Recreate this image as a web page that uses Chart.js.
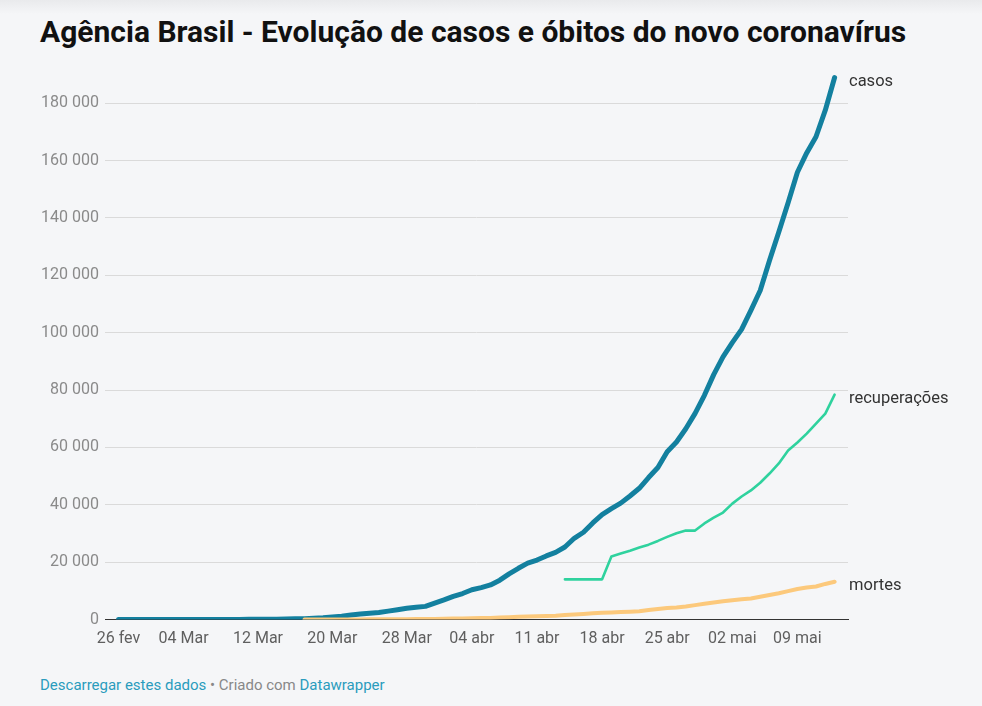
<!DOCTYPE html>
<html><head><meta charset="utf-8">
<script src="https://cdn.jsdelivr.net/npm/chart.js@4.4.0/dist/chart.umd.min.js"></script>
<style>
html,body{margin:0;padding:0;}
body{width:982px;height:706px;position:relative;overflow:hidden;font-family:Roboto,"Noto Sans",sans-serif;background:linear-gradient(#e9eaec 0px,#f5f6f8 14px,#f5f6f8 100%);}
h1{position:absolute;left:40px;top:13px;margin:0;font-size:30px;line-height:38px;font-weight:700;color:#111;white-space:nowrap;}
#wrap{position:absolute;left:0;top:0;width:982px;height:660px;}
.foot{position:absolute;left:40px;top:676px;font-size:15px;line-height:18px;color:#888;white-space:nowrap;}
.foot span.l{color:#2a9cbd;}
</style></head>
<body>
<h1 id="title">Agência Brasil - Evolução de casos e óbitos do novo coronavírus</h1>
<div id="wrap"><canvas id="c"></canvas></div>
<div class="foot"><span class="l">Descarregar estes dados</span> • Criado com <span class="l">Datawrapper</span></div>
<script>
// Days (26 fev 2020 – 13 mai 2020)
const dates = [
 "2020-02-26","2020-02-27","2020-02-28","2020-02-29",
 "2020-03-01","2020-03-02","2020-03-03","2020-03-04","2020-03-05","2020-03-06","2020-03-07","2020-03-08","2020-03-09","2020-03-10",
 "2020-03-11","2020-03-12","2020-03-13","2020-03-14","2020-03-15","2020-03-16","2020-03-17","2020-03-18","2020-03-19","2020-03-20",
 "2020-03-21","2020-03-22","2020-03-23","2020-03-24","2020-03-25","2020-03-26","2020-03-27","2020-03-28","2020-03-29","2020-03-30","2020-03-31",
 "2020-04-01","2020-04-02","2020-04-03","2020-04-04","2020-04-05","2020-04-06","2020-04-07","2020-04-08","2020-04-09","2020-04-10",
 "2020-04-11","2020-04-12","2020-04-13","2020-04-14","2020-04-15","2020-04-16","2020-04-17","2020-04-18","2020-04-19","2020-04-20",
 "2020-04-21","2020-04-22","2020-04-23","2020-04-24","2020-04-25","2020-04-26","2020-04-27","2020-04-28","2020-04-29","2020-04-30",
 "2020-05-01","2020-05-02","2020-05-03","2020-05-04","2020-05-05","2020-05-06","2020-05-07","2020-05-08","2020-05-09","2020-05-10",
 "2020-05-11","2020-05-12","2020-05-13"
];
const casos = [
 1,1,1,2,
 2,2,2,3,8,13,19,25,25,34,
 52,77,98,121,200,234,291,428,621,904,
 1128,1546,1891,2201,2433,2915,3417,3904,4256,4579,5717,
 6836,8044,9056,10360,11130,12056,13717,15927,17857,19638,
 20727,22169,23430,25262,28320,30425,33682,36599,38654,40581,
 43079,45757,49492,52995,58509,61888,66501,71886,78162,85380,
 91589,96559,101147,107780,114715,125218,135106,145328,155939,162699,
 168331,177589,188974
];
const recuperacoes = [
 null,null,null,null,
 null,null,null,null,null,null,null,null,null,null,
 null,null,null,null,null,null,null,null,null,null,
 null,null,null,null,null,null,null,null,null,null,null,
 null,null,null,null,null,null,null,null,null,null,
 null,null,null,14000,14000,14000,14000,14000,22000,23000,
 24000,25100,26100,27400,28800,30100,31000,31000,33500,35500,
 37300,40400,42900,45000,47700,50900,54400,58900,61700,64800,
 68300,71800,78400
];
const mortes = [
 null,null,null,null,
 null,null,null,null,null,null,null,null,null,null,
 null,null,null,null,null,null,1,4,7,11,
 18,25,34,46,57,77,92,114,136,159,201,
 240,324,359,445,486,553,667,800,941,1056,
 1124,1223,1328,1532,1736,1924,2141,2347,2462,2575,
 2741,2906,3313,3670,4016,4205,4543,5017,5466,5901,
 6329,6750,7025,7321,7921,8536,9146,9897,10627,11123,
 11519,12400,13149
];
const seriesNames = ["casos","recuperações","mortes"];
const seriesColors = ["#13809f","#2fd29e","#fcc97c"];
const seriesWidths = [5,2.6,4];
const xTickDates = ["2020-02-26","2020-03-04","2020-03-12","2020-03-20","2020-03-28","2020-04-04","2020-04-11","2020-04-18","2020-04-25","2020-05-02","2020-05-09"];
const xTickLabels = ["26 fev","04 Mar","12 Mar","20 Mar","28 Mar","04 abr","11 abr","18 abr","25 abr","02 mai","09 mai"];
const yTicks = [0,20000,40000,60000,80000,100000,120000,140000,160000,180000];

const toPts = arr => arr.map((v,i)=> v===null?null:{x:i,y:v}).filter(p=>p);
const seriesData = [casos,recuperacoes,mortes];
const xTickIdx = xTickDates.map(d=>dates.indexOf(d));
const fmt = v => String(v).replace(/\B(?=(\d{3})+(?!\d))/g,' ');

const endLabels = {
  id:'endLabels',
  afterDatasetsDraw(chart){
    const {ctx, chartArea, scales:{y}} = chart;
    ctx.save();
    ctx.font = '16.5px Roboto, "Noto Sans", sans-serif';
    ctx.fillStyle = '#333';
    ctx.textBaseline = 'middle';
    ctx.textAlign = 'left';
    chart.data.datasets.forEach(ds=>{
      const last = ds.data[ds.data.length-1];
      ctx.fillText(ds.label, chartArea.right + 1, y.getPixelForValue(last.y) + 4);
    });
    ctx.restore();
  }
};

new Chart(document.getElementById('c'), {
  type:'line',
  data:{
    datasets: seriesNames.map((n,k)=>({
      label:n, data:toPts(seriesData[k]), borderColor:seriesColors[k], backgroundColor:seriesColors[k],
      borderWidth:seriesWidths[k], pointRadius:0, tension:0, borderJoinStyle:'round', borderCapStyle:'round', fill:false
    })).reverse()
  },
  options:{
    responsive:true, maintainAspectRatio:false, animation:false,
    layout:{padding:{left:40,right:134,top:74.6,bottom:10.5}},
    plugins:{legend:{display:false},tooltip:{enabled:false},title:{display:false}},
    scales:{
      x:{type:'linear', min:-1.45, max:78.44,
        afterBuildTicks: s => { s.ticks = xTickIdx.map(v=>({value:v})); },
        afterFit: s => { s.height = 30; },
        grid:{display:false, drawTicks:false},
        border:{display:true, color:'#333', width:1},
        ticks:{padding:10, color:'#5f5f5f', font:{family:'Roboto', size:16}, maxRotation:0, autoSkip:false,
          callback:(v)=>{ const i = xTickIdx.indexOf(v); return i>=0 ? xTickLabels[i] : ''; } }
      },
      y:{type:'linear', min:0, max:190000,
        afterBuildTicks: s => { s.ticks = yTicks.map(v=>({value:v})); },
        afterFit: s => { s.width = 65; },
        grid:{color:'#dadada', lineWidth:1, drawTicks:false},
        border:{display:false},
        ticks:{padding:6, color:'#8a8a8a', font:{family:'Roboto', size:16}, callback:v=>fmt(v)}
      }
    }
  },
  plugins:[endLabels]
});
</script>
</body></html>
